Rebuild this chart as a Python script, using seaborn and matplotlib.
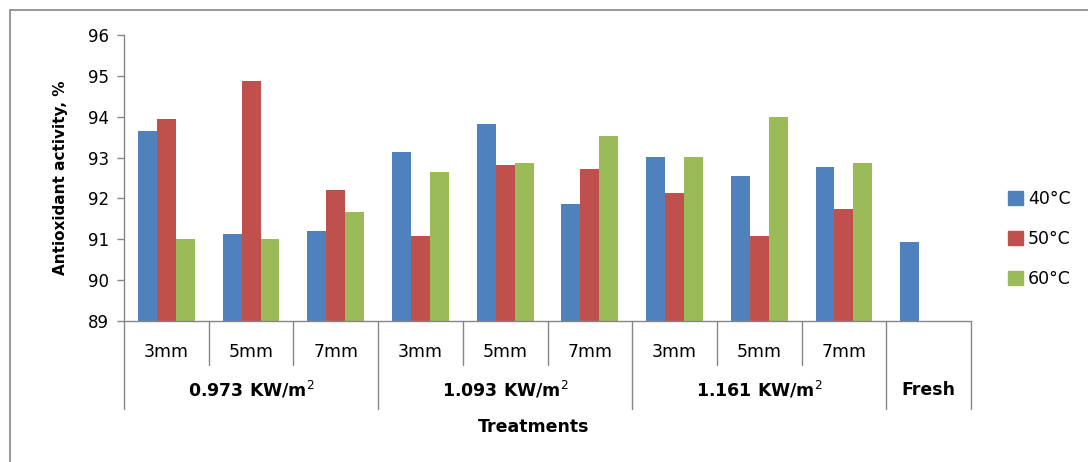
import matplotlib
matplotlib.use("Agg")
import matplotlib.pyplot as plt
import matplotlib.patches as mpatches
import numpy as np
import pandas as pd
import seaborn as sns

# data
categories = ["0.973-3mm", "0.973-5mm", "0.973-7mm",
              "1.093-3mm", "1.093-5mm", "1.093-7mm",
              "1.161-3mm", "1.161-5mm", "1.161-7mm", "Fresh"]
thickness = ["3mm", "5mm", "7mm"] * 3
groups = ["0.973 KW/m$^{2}$", "1.093 KW/m$^{2}$", "1.161 KW/m$^{2}$", "Fresh"]
temps = ["40°C", "50°C", "60°C"]
t40 = [93.64, 91.13, 91.21, 93.14, 93.83, 91.86, 93.01, 92.56, 92.77, 90.93]
t50 = [93.94, 94.87, 92.21, 91.08, 92.82, 92.71, 92.13, 91.08, 91.73, np.nan]
t60 = [91.00, 91.00, 91.66, 92.64, 92.87, 93.54, 93.01, 93.99, 92.87, np.nan]
colors = ["#4F81BD", "#C0504D", "#9BBB59"]

df = pd.DataFrame({
    "cat": categories * 3,
    "temp": [t for t in temps for _ in categories],
    "val": t40 + t50 + t60,
})

sns.set_theme(style="white")
plt.rcParams["font.family"] = ["DejaVu Sans"]
plt.rcParams["text.color"] = "black"
plt.rcParams["axes.labelcolor"] = "black"

line_col = "#868686"
fig = plt.figure(figsize=(10.88, 4.62), dpi=100)
ax = fig.add_axes([124 / 1088, 1 - 321 / 462, (971 - 124) / 1088, 286 / 462])

sns.barplot(data=df, x="cat", y="val", hue="temp", order=categories,
            hue_order=temps, palette=colors, saturation=1, width=0.67,
            errorbar=None, linewidth=0, ax=ax)

ax.set_ylim(89, 96)
ax.set_xlim(-0.5, len(categories) - 0.5)
ax.set_yticks(range(89, 97))
ax.tick_params(axis="y", which="major", left=True, length=5, width=1,
               color=line_col, labelsize=12, pad=6, labelcolor="black")
ax.set_xticks([])
ax.set_xlabel("")
ax.set_ylabel("Antioxidant activity, %", fontsize=11, fontweight="bold",
              labelpad=14)
for s in ["top", "right"]:
    ax.spines[s].set_visible(False)
for s in ["left", "bottom"]:
    ax.spines[s].set_color(line_col)
    ax.spines[s].set_linewidth(1)

# multi-level category axis
tr = ax.get_xaxis_transform()
h = 286
short = -44 / h
long = -88 / h
group_edges = [-0.5, 2.5, 5.5, 8.5, 9.5]
for i in range(len(categories) + 1):
    x = i - 0.5
    y1 = long if x in group_edges else short
    ax.plot([x, x], [0, y1], transform=tr, color=line_col, lw=1, clip_on=False)
for i, lab in enumerate(thickness):
    ax.text(i, -31 / h, lab, transform=tr, ha="center", va="center",
            fontsize=12.5)
for k, lab in enumerate(groups):
    x0, x1 = group_edges[k], group_edges[k + 1]
    ax.text((x0 + x1) / 2, -69 / h, lab, transform=tr, ha="center",
            va="center", fontsize=12.5, fontweight="bold")
fig.text(534 / 1088, 1 - 427 / 462, "Treatments", ha="center", va="center",
         fontsize=12.5, fontweight="bold")

# legend
handles = [mpatches.Patch(color=c, label=t) for c, t in zip(colors, temps)]
leg = ax.get_legend()
if leg is not None:
    leg.remove()
fig.legend(handles=handles, loc="center left",
           bbox_to_anchor=(1008 / 1088, 1 - 239 / 462), frameon=False,
           fontsize=12.5, handlelength=0.85, handleheight=0.85,
           handletextpad=0.3, labelspacing=1.25, borderpad=0,
           borderaxespad=0)

# outer chart border
fig.patches.append(mpatches.Rectangle((10 / 1088, -0.05), 1.1, 1 - 10 / 462 + 0.05,
                                      transform=fig.transFigure, fill=False,
                                      edgecolor=line_col, lw=1.2))

fig.savefig("out.png", dpi=100)
